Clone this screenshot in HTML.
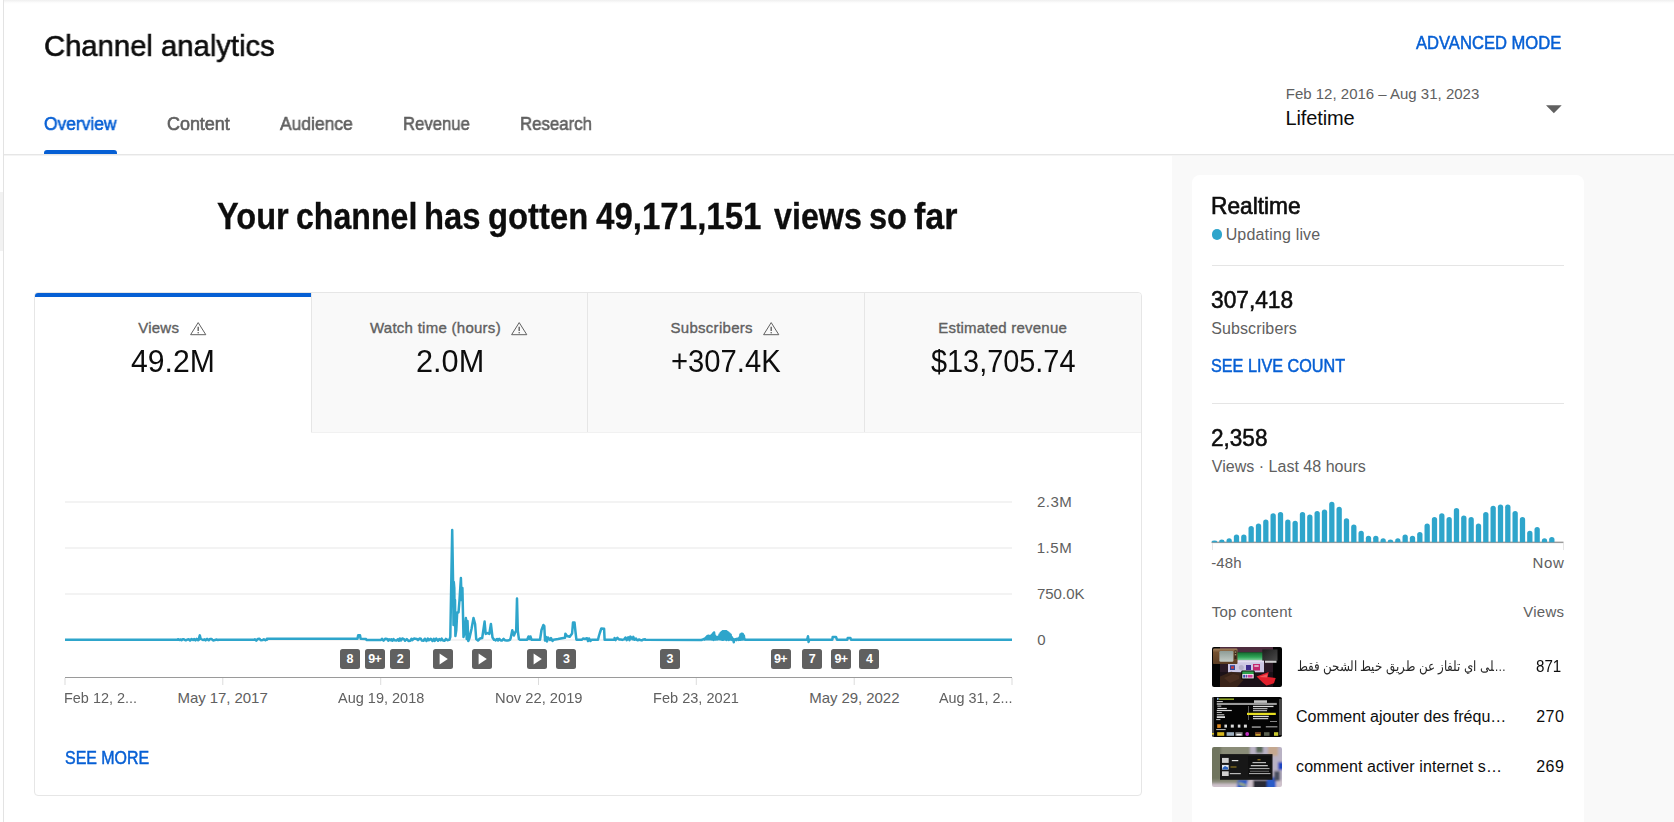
<!DOCTYPE html>
<html lang="en"><head><meta charset="utf-8"><title>Channel analytics</title>
<style>
html,body{margin:0;padding:0}
body{width:1674px;height:822px;overflow:hidden;background:#fff;font-family:"Liberation Sans",sans-serif;position:relative}
#app{position:absolute;left:0;top:0;width:1674px;height:822px;overflow:hidden;background:#fff}
.t{position:absolute;white-space:pre;line-height:1;margin:0;transform-origin:0 0}
.abs{position:absolute}
.mk{position:absolute;top:649px;width:20px;height:20px;border-radius:2.5px;background:#606060;color:#fff;font-weight:700;font-size:12.5px;line-height:20px;text-align:center;letter-spacing:-0.6px}
.thumb{position:absolute;left:1212px;width:70px;height:40px;border-radius:2px;overflow:hidden}
</style></head><body><div id="app">
<div class="abs" style="left:1172px;top:155px;width:502px;height:667px;background:#f9f9f9"></div>
<div class="abs" style="left:4px;top:0;width:1670px;height:4px;background:linear-gradient(#efefef,#fbfbfb 60%,#fff)"></div>
<div class="abs" style="left:0;top:192px;width:3px;height:59px;background:#f2f2f2"></div>
<div class="abs" style="left:3px;top:0;width:1px;height:822px;background:#e3e3e3"></div>
<div class="abs" style="left:4px;top:154px;width:1670px;height:1px;background:#e6e6e6"></div>
<div class="abs" style="left:4px;top:155px;width:1670px;height:1px;background:#f4f4f4"></div>
<div class="abs" style="left:44px;top:150px;width:73px;height:4px;background:#065fd4;border-radius:3px 3px 0 0"></div>
<svg class="abs" style="left:1540px;top:100px" width="30" height="20" viewBox="0 0 30 20"><path d="M6 5.2 L21.7 5.2 L13.85 13.3 Z" fill="#606060"/></svg>
<div class="abs" style="left:1192px;top:175px;width:392px;height:700px;background:#fff;border-radius:8px"></div>
<div class="abs" style="left:1212px;top:265px;width:352px;height:1px;background:#e5e5e5"></div>
<div class="abs" style="left:1212px;top:403px;width:352px;height:1px;background:#e5e5e5"></div>
<div class="abs" style="left:1211.6px;top:229.1px;width:10.5px;height:10.5px;border-radius:50%;background:#2ea5cb"></div>
<div class="abs" style="left:34px;top:292px;width:1106px;height:502px;border:1px solid #e6e6e6;border-radius:4px;background:#fff"></div>
<div class="abs" style="left:311px;top:293px;width:830px;height:139px;background:#f9f9f9;border-top-right-radius:3px"></div>
<div class="abs" style="left:311px;top:432px;width:830px;height:1px;background:#f1f1f1"></div>
<div class="abs" style="left:311px;top:293px;width:1px;height:139px;background:#e6e6e6"></div>
<div class="abs" style="left:587px;top:293px;width:1px;height:139px;background:#e6e6e6"></div>
<div class="abs" style="left:864px;top:293px;width:1px;height:139px;background:#e6e6e6"></div>
<div class="abs" style="left:35px;top:293px;width:276px;height:4px;background:#065fd4;border-top-left-radius:3px"></div>
<svg class="abs" style="left:187.5px;top:318px" width="22" height="20" viewBox="0 0 22 20"><path d="M10.2 4.6 L17.8 16.7 L2.6 16.7 Z" fill="none" stroke="#606060" stroke-width="1" stroke-linejoin="round"/><path d="M10.2 8.8 L10.2 13" stroke="#606060" stroke-width="1.4"/><circle cx="10.2" cy="14.7" r="0.8" fill="#606060"/></svg>
<svg class="abs" style="left:508.6px;top:318px" width="22" height="20" viewBox="0 0 22 20"><path d="M10.2 4.6 L17.8 16.7 L2.6 16.7 Z" fill="none" stroke="#606060" stroke-width="1" stroke-linejoin="round"/><path d="M10.2 8.8 L10.2 13" stroke="#606060" stroke-width="1.4"/><circle cx="10.2" cy="14.7" r="0.8" fill="#606060"/></svg>
<svg class="abs" style="left:760.5px;top:318px" width="22" height="20" viewBox="0 0 22 20"><path d="M10.2 4.6 L17.8 16.7 L2.6 16.7 Z" fill="none" stroke="#606060" stroke-width="1" stroke-linejoin="round"/><path d="M10.2 8.8 L10.2 13" stroke="#606060" stroke-width="1.4"/><circle cx="10.2" cy="14.7" r="0.8" fill="#606060"/></svg>
<svg class="abs" style="left:0;top:480px" width="1172" height="220" viewBox="0 480 1172 220"><rect x="65" y="501.5" width="947" height="1" fill="#e8e8e8"/><rect x="65" y="547.5" width="947" height="1" fill="#e8e8e8"/><rect x="65" y="593.5" width="947" height="1" fill="#e8e8e8"/><rect x="65" y="639.5" width="947" height="1" fill="#e8e8e8"/><rect x="65" y="677" width="947" height="1" fill="#9a9a9a"/><rect x="64.5" y="678" width="1" height="7" fill="#dcdcdc"/><rect x="222.3" y="678" width="1" height="7" fill="#dcdcdc"/><rect x="380.2" y="678" width="1" height="7" fill="#dcdcdc"/><rect x="538.0" y="678" width="1" height="7" fill="#dcdcdc"/><rect x="695.8" y="678" width="1" height="7" fill="#dcdcdc"/><rect x="853.7" y="678" width="1" height="7" fill="#dcdcdc"/><rect x="1011.5" y="678" width="1" height="7" fill="#dcdcdc"/><path d="M65.0 639.7 L178.0 639.7 L178.0 639.2 L179.6 640.0 L180.9 639.4 L181.8 640.2 L182.8 639.2 L183.9 639.3 L185.8 640.3 L187.7 639.4 L188.9 639.3 L190.1 640.5 L191.6 639.0 L193.1 640.0 L194.3 639.0 L195.5 640.3 L196.7 638.9 L197.9 640.3 L199.0 639.7 L199.3 637.0 L199.8 635.4 L200.6 638.5 L201.0 639.0 L202.9 640.0 L204.6 639.3 L205.6 640.4 L207.1 638.9 L208.7 640.3 L210.1 638.9 L211.5 639.0 L213.1 640.4 L214.9 640.1 L216.5 639.4 L217.6 640.0 L219.0 639.7 L255.0 639.7 L255.0 639.3 L256.3 640.6 L257.7 639.0 L259.5 638.8 L260.8 640.3 L262.7 640.1 L263.9 639.2 L265.4 640.2 L266.7 639.1 L267.0 639.7 L267.0 638.7 L357.5 638.7 L358.2 635.2 L360.0 635.2 L360.6 638.7 L366.0 639.0 L366.5 640.0 L381.0 640.0 L382.0 638.8 L383.6 640.6 L385.4 638.7 L387.1 639.0 L388.2 640.6 L389.1 639.2 L390.4 640.1 L391.5 639.3 L392.4 640.8 L393.5 639.1 L394.8 640.2 L396.7 640.5 L397.7 639.3 L398.9 640.8 L399.8 638.5 L400.9 640.5 L402.3 638.5 L404.0 639.1 L405.1 640.7 L406.8 639.1 L408.5 640.9 L410.3 640.7 L411.4 638.9 L412.4 640.1 L413.5 638.8 L414.9 638.6 L416.8 639.0 L418.0 640.2 L419.5 638.6 L420.9 638.8 L421.9 640.6 L423.7 640.7 L424.8 638.7 L426.5 640.9 L427.8 638.5 L428.9 640.2 L430.8 638.7 L432.5 640.9 L433.8 638.9 L434.7 640.9 L436.2 638.6 L438.0 640.8 L439.2 639.1 L440.7 640.3 L441.7 638.6 L443.1 640.6 L444.5 640.8 L445.9 638.9 L447.3 640.2 L449.0 639.7 L449.5 639.7 L450.3 637.0 L452.2 530.0 L453.2 590.0 L453.5 625.0 L453.8 582.0 L454.3 588.0 L454.7 620.0 L455.0 600.0 L455.4 636.0 L456.3 630.0 L457.2 612.5 L458.5 612.5 L459.5 600.0 L460.9 578.0 L461.6 600.0 L462.4 588.0 L463.5 637.0 L464.8 632.0 L465.9 618.0 L466.7 639.0 L467.5 621.0 L468.3 641.0 L469.5 638.0 L471.5 629.0 L473.5 618.0 L475.1 624.0 L476.2 639.0 L478.0 640.5 L480.0 638.5 L482.2 638.0 L484.6 621.6 L485.7 634.0 L487.5 633.0 L489.3 634.0 L490.9 624.0 L492.5 637.5 L494.0 639.7 L494.0 639.3 L495.7 640.4 L497.1 639.0 L498.1 640.4 L499.3 638.9 L500.8 640.5 L502.2 640.4 L503.6 638.9 L505.1 640.3 L506.7 640.6 L507.9 640.4 L509.7 640.1 L510.0 639.7 L510.7 638.0 L512.3 630.3 L513.9 635.5 L515.4 632.0 L516.2 630.8 L517.0 598.6 L517.8 630.8 L518.9 639.0 L520.0 639.7 L527.2 639.7 L528.5 636.5 L529.5 639.0 L530.5 636.5 L531.5 639.7 L540.0 639.7 L540.6 636.0 L541.5 630.0 L543.4 625.0 L544.3 626.0 L545.0 640.5 L546.0 637.0 L547.0 641.5 L548.0 637.5 L550.0 640.0 L551.0 638.0 L552.5 641.0 L553.5 639.7 L558.0 639.0 L562.0 638.2 L565.0 637.8 L565.4 633.7 L567.0 636.0 L569.7 636.8 L571.0 635.0 L572.1 633.5 L573.0 622.5 L574.5 622.5 L575.5 632.0 L576.4 639.7 L582.0 639.7 L583.0 638.5 L585.0 639.0 L587.0 638.2 L588.0 641.0 L589.0 638.5 L590.5 641.0 L591.7 639.7 L598.0 639.7 L598.9 636.0 L599.8 633.0 L601.3 628.5 L604.1 628.7 L604.6 639.7 L614.6 639.7 L614.6 637.9 L615.6 640.1 L617.4 637.8 L619.0 639.4 L620.9 639.5 L622.3 639.9 L624.0 639.4 L625.5 637.5 L626.7 640.2 L628.2 637.4 L629.5 640.1 L630.4 636.6 L632.4 639.3 L633.3 636.9 L634.4 639.8 L636.0 638.6 L636.0 639.3 L637.9 640.3 L638.9 639.4 L640.2 640.0 L641.8 640.4 L643.6 639.4 L645.0 639.3 L645.0 639.7 L702.0 640.0 L702.5 639.4 L703.1 639.5 L703.6 639.2 L704.2 638.9 L704.7 639.6 L705.3 638.2 L705.8 639.3 L706.4 637.1 L706.9 639.2 L707.5 636.0 L708.0 639.3 L708.6 635.8 L709.1 639.2 L709.7 636.3 L710.2 639.3 L710.8 635.7 L711.3 639.4 L711.9 634.7 L712.4 639.4 L713.0 633.6 L713.5 639.9 L714.1 632.6 L714.6 639.4 L715.2 635.8 L715.7 639.6 L716.3 637.2 L716.8 639.3 L717.4 637.3 L717.9 639.4 L718.5 636.6 L719.0 639.1 L719.6 634.6 L720.1 639.4 L720.7 633.0 L721.2 639.1 L721.8 632.1 L722.3 639.8 L722.9 631.3 L723.4 639.7 L724.0 631.2 L724.5 639.3 L725.1 631.2 L725.6 639.6 L726.2 631.2 L726.7 640.0 L727.3 632.0 L727.8 639.2 L728.4 632.8 L728.9 639.9 L729.5 633.7 L730.0 639.5 L730.6 634.7 L731.1 639.6 L731.7 637.3 L732.2 639.9 L732.8 638.7 L733.3 639.5 L733.8 642.3 L733.9 639.5 L733.8 642.3 L734.4 639.6 L735.0 639.2 L735.5 639.8 L736.1 639.0 L736.6 640.1 L737.2 638.8 L737.7 639.4 L738.3 638.6 L738.8 639.9 L739.4 637.6 L739.9 639.8 L740.5 634.4 L741.0 639.7 L741.6 633.7 L742.1 639.5 L742.7 633.9 L743.2 639.4 L743.8 635.4 L744.3 639.2 L744.9 639.3 L745.0 639.7 L806.5 639.7 L807.3 639.0 L808.0 636.3 L808.6 642.0 L809.3 639.7 L832.3 639.7 L832.7 637.0 L836.0 637.0 L837.0 639.7 L847.3 639.7 L847.7 638.0 L850.4 638.0 L851.0 639.7 L1012.0 639.7" fill="none" stroke="#2ea5cb" stroke-width="2.5" stroke-linejoin="round" stroke-linecap="butt"/></svg>
<div class="mk" style="left:339.7px">8</div>
<div class="mk" style="left:364.8px">9+</div>
<div class="mk" style="left:390.0px">2</div>
<div class="mk" style="left:432.5px"><svg width="20" height="20" viewBox="0 0 20 20" style="display:block"><path d="M6.6 4.5 L14.8 10 L6.6 15.5 Z" fill="#fff"/></svg></div>
<div class="mk" style="left:471.8px"><svg width="20" height="20" viewBox="0 0 20 20" style="display:block"><path d="M6.6 4.5 L14.8 10 L6.6 15.5 Z" fill="#fff"/></svg></div>
<div class="mk" style="left:526.9px"><svg width="20" height="20" viewBox="0 0 20 20" style="display:block"><path d="M6.6 4.5 L14.8 10 L6.6 15.5 Z" fill="#fff"/></svg></div>
<div class="mk" style="left:556.2px">3</div>
<div class="mk" style="left:659.7px">3</div>
<div class="mk" style="left:770.5px">9+</div>
<div class="mk" style="left:802.0px">7</div>
<div class="mk" style="left:831.0px">9+</div>
<div class="mk" style="left:859.2px">4</div>
<svg class="abs" style="left:1200px;top:495px" width="380" height="60" viewBox="1200 495 380 60"><rect x="1211.5" y="541.6" width="352" height="1.5" fill="#9c9c9c"/><rect x="1212" y="543" width="1" height="7" fill="#e6e6e6"/><rect x="1563" y="543" width="1" height="7" fill="#e6e6e6"/><path d="M1211.85 542.3 V541.60 Q1211.85 540.50 1214.50 540.50 Q1217.15 540.50 1217.15 541.60 V542.3 Z" fill="#2ea5cb"/><path d="M1219.18 542.3 V541.60 Q1219.18 539.40 1221.83 539.40 Q1224.48 539.40 1224.48 541.60 V542.3 Z" fill="#2ea5cb"/><path d="M1226.52 542.3 V540.90 Q1226.52 538.30 1229.17 538.30 Q1231.82 538.30 1231.82 540.90 V542.3 Z" fill="#2ea5cb"/><path d="M1233.85 542.3 V537.00 Q1233.85 534.40 1236.50 534.40 Q1239.15 534.40 1239.15 537.00 V542.3 Z" fill="#2ea5cb"/><path d="M1241.18 542.3 V537.00 Q1241.18 534.40 1243.83 534.40 Q1246.48 534.40 1246.48 537.00 V542.3 Z" fill="#2ea5cb"/><path d="M1248.51 542.3 V528.50 Q1248.51 525.90 1251.16 525.90 Q1253.81 525.90 1253.81 528.50 V542.3 Z" fill="#2ea5cb"/><path d="M1255.85 542.3 V526.00 Q1255.85 523.40 1258.50 523.40 Q1261.15 523.40 1261.15 526.00 V542.3 Z" fill="#2ea5cb"/><path d="M1263.18 542.3 V522.10 Q1263.18 519.50 1265.83 519.50 Q1268.48 519.50 1268.48 522.10 V542.3 Z" fill="#2ea5cb"/><path d="M1270.51 542.3 V515.80 Q1270.51 513.20 1273.16 513.20 Q1275.81 513.20 1275.81 515.80 V542.3 Z" fill="#2ea5cb"/><path d="M1277.85 542.3 V514.60 Q1277.85 512.00 1280.50 512.00 Q1283.15 512.00 1283.15 514.60 V542.3 Z" fill="#2ea5cb"/><path d="M1285.18 542.3 V522.10 Q1285.18 519.50 1287.83 519.50 Q1290.48 519.50 1290.48 522.10 V542.3 Z" fill="#2ea5cb"/><path d="M1292.51 542.3 V523.40 Q1292.51 520.80 1295.16 520.80 Q1297.81 520.80 1297.81 523.40 V542.3 Z" fill="#2ea5cb"/><path d="M1299.85 542.3 V514.60 Q1299.85 512.00 1302.50 512.00 Q1305.15 512.00 1305.15 514.60 V542.3 Z" fill="#2ea5cb"/><path d="M1307.18 542.3 V517.10 Q1307.18 514.50 1309.83 514.50 Q1312.48 514.50 1312.48 517.10 V542.3 Z" fill="#2ea5cb"/><path d="M1314.51 542.3 V513.50 Q1314.51 510.90 1317.16 510.90 Q1319.81 510.90 1319.81 513.50 V542.3 Z" fill="#2ea5cb"/><path d="M1321.84 542.3 V512.20 Q1321.84 509.60 1324.49 509.60 Q1327.14 509.60 1327.14 512.20 V542.3 Z" fill="#2ea5cb"/><path d="M1329.18 542.3 V504.40 Q1329.18 501.80 1331.83 501.80 Q1334.48 501.80 1334.48 504.40 V542.3 Z" fill="#2ea5cb"/><path d="M1336.51 542.3 V509.40 Q1336.51 506.80 1339.16 506.80 Q1341.81 506.80 1341.81 509.40 V542.3 Z" fill="#2ea5cb"/><path d="M1343.84 542.3 V520.80 Q1343.84 518.20 1346.49 518.20 Q1349.14 518.20 1349.14 520.80 V542.3 Z" fill="#2ea5cb"/><path d="M1351.18 542.3 V527.10 Q1351.18 524.50 1353.83 524.50 Q1356.48 524.50 1356.48 527.10 V542.3 Z" fill="#2ea5cb"/><path d="M1358.51 542.3 V533.40 Q1358.51 530.80 1361.16 530.80 Q1363.81 530.80 1363.81 533.40 V542.3 Z" fill="#2ea5cb"/><path d="M1365.84 542.3 V538.30 Q1365.84 535.70 1368.49 535.70 Q1371.14 535.70 1371.14 538.30 V542.3 Z" fill="#2ea5cb"/><path d="M1373.18 542.3 V538.30 Q1373.18 535.70 1375.83 535.70 Q1378.48 535.70 1378.48 538.30 V542.3 Z" fill="#2ea5cb"/><path d="M1380.51 542.3 V540.90 Q1380.51 538.30 1383.16 538.30 Q1385.81 538.30 1385.81 540.90 V542.3 Z" fill="#2ea5cb"/><path d="M1387.84 542.3 V541.60 Q1387.84 539.40 1390.49 539.40 Q1393.14 539.40 1393.14 541.60 V542.3 Z" fill="#2ea5cb"/><path d="M1395.17 542.3 V540.90 Q1395.17 538.30 1397.83 538.30 Q1400.47 538.30 1400.47 540.90 V542.3 Z" fill="#2ea5cb"/><path d="M1402.51 542.3 V537.00 Q1402.51 534.40 1405.16 534.40 Q1407.81 534.40 1407.81 537.00 V542.3 Z" fill="#2ea5cb"/><path d="M1409.84 542.3 V538.30 Q1409.84 535.70 1412.49 535.70 Q1415.14 535.70 1415.14 538.30 V542.3 Z" fill="#2ea5cb"/><path d="M1417.17 542.3 V534.60 Q1417.17 532.00 1419.82 532.00 Q1422.47 532.00 1422.47 534.60 V542.3 Z" fill="#2ea5cb"/><path d="M1424.51 542.3 V526.00 Q1424.51 523.40 1427.16 523.40 Q1429.81 523.40 1429.81 526.00 V542.3 Z" fill="#2ea5cb"/><path d="M1431.84 542.3 V519.70 Q1431.84 517.10 1434.49 517.10 Q1437.14 517.10 1437.14 519.70 V542.3 Z" fill="#2ea5cb"/><path d="M1439.17 542.3 V515.80 Q1439.17 513.20 1441.82 513.20 Q1444.47 513.20 1444.47 515.80 V542.3 Z" fill="#2ea5cb"/><path d="M1446.51 542.3 V519.70 Q1446.51 517.10 1449.16 517.10 Q1451.81 517.10 1451.81 519.70 V542.3 Z" fill="#2ea5cb"/><path d="M1453.84 542.3 V510.70 Q1453.84 508.10 1456.49 508.10 Q1459.14 508.10 1459.14 510.70 V542.3 Z" fill="#2ea5cb"/><path d="M1461.17 542.3 V518.20 Q1461.17 515.60 1463.82 515.60 Q1466.47 515.60 1466.47 518.20 V542.3 Z" fill="#2ea5cb"/><path d="M1468.50 542.3 V519.70 Q1468.50 517.10 1471.15 517.10 Q1473.80 517.10 1473.80 519.70 V542.3 Z" fill="#2ea5cb"/><path d="M1475.84 542.3 V526.00 Q1475.84 523.40 1478.49 523.40 Q1481.14 523.40 1481.14 526.00 V542.3 Z" fill="#2ea5cb"/><path d="M1483.17 542.3 V514.60 Q1483.17 512.00 1485.82 512.00 Q1488.47 512.00 1488.47 514.60 V542.3 Z" fill="#2ea5cb"/><path d="M1490.50 542.3 V508.30 Q1490.50 505.70 1493.15 505.70 Q1495.80 505.70 1495.80 508.30 V542.3 Z" fill="#2ea5cb"/><path d="M1497.84 542.3 V507.20 Q1497.84 504.60 1500.49 504.60 Q1503.14 504.60 1503.14 507.20 V542.3 Z" fill="#2ea5cb"/><path d="M1505.17 542.3 V507.20 Q1505.17 504.60 1507.82 504.60 Q1510.47 504.60 1510.47 507.20 V542.3 Z" fill="#2ea5cb"/><path d="M1512.50 542.3 V513.50 Q1512.50 510.90 1515.15 510.90 Q1517.80 510.90 1517.80 513.50 V542.3 Z" fill="#2ea5cb"/><path d="M1519.84 542.3 V519.70 Q1519.84 517.10 1522.49 517.10 Q1525.14 517.10 1525.14 519.70 V542.3 Z" fill="#2ea5cb"/><path d="M1527.17 542.3 V533.40 Q1527.17 530.80 1529.82 530.80 Q1532.47 530.80 1532.47 533.40 V542.3 Z" fill="#2ea5cb"/><path d="M1534.50 542.3 V529.50 Q1534.50 526.90 1537.15 526.90 Q1539.80 526.90 1539.80 529.50 V542.3 Z" fill="#2ea5cb"/><path d="M1541.84 542.3 V540.90 Q1541.84 538.30 1544.49 538.30 Q1547.13 538.30 1547.13 540.90 V542.3 Z" fill="#2ea5cb"/><path d="M1549.17 542.3 V539.60 Q1549.17 537.00 1551.82 537.00 Q1554.47 537.00 1554.47 539.60 V542.3 Z" fill="#2ea5cb"/></svg>
<svg class="thumb" style="top:647px" viewBox="0 0 70 40" width="70" height="40"><defs>
<linearGradient id="g1a" x1="0" y1="0" x2="0" y2="1"><stop offset="0" stop-color="#8e9c96"/><stop offset="1" stop-color="#c3cbc5"/></linearGradient>
<linearGradient id="g1b" x1="0" y1="0" x2="0" y2="1"><stop offset="0" stop-color="#15692f"/><stop offset=".6" stop-color="#2fa557"/><stop offset="1" stop-color="#7fd09a"/></linearGradient>
<linearGradient id="g1c" x1="0" y1="0" x2="0" y2="1"><stop offset="0" stop-color="#a58460"/><stop offset=".25" stop-color="#73502f"/><stop offset="1" stop-color="#5a3c22"/></linearGradient>
<linearGradient id="g1d" x1="0" y1="0" x2="1" y2="1"><stop offset="0" stop-color="#1c1c1c"/><stop offset="1" stop-color="#4a4a4a"/></linearGradient></defs>
<rect width="70" height="40" fill="#040404"/>
<rect x="8" y="0" width="53" height="40" fill="#2a1a25"/><rect x="8" y="0" width="53" height="5.2" fill="#4d2c3e"/><rect x="8" y="25" width="53" height="15" fill="#1c1118"/>
<rect x="25" y="5.3" width="26" height="8" fill="url(#g1b)"/>
<rect x="16" y="13.3" width="36" height="12" fill="#cdc8e4"/><rect x="16" y="13.3" width="36" height="2" fill="#e2def0"/>
<rect x="18" y="18.2" width="5" height="4.8" fill="#2c4aa0"/><rect x="19" y="19.4" width="3" height="2.2" fill="#d23a3a"/>
<circle cx="29.3" cy="20.5" r="2.5" fill="#b2aec8"/>
<rect x="34" y="18" width="5" height="5" fill="#3b2a8c"/><rect x="41" y="17" width="7" height="6.5" fill="#c2276f"/><rect x="42.3" y="18.2" width="4.4" height="1.6" fill="#e8c8da"/>
<rect x="1" y="1.5" width="24.5" height="15.6" rx="1.2" fill="url(#g1c)"/><rect x="7.4" y="4" width="14" height="10.8" rx="1.2" fill="url(#g1a)"/><rect x="22.4" y="3.4" width="2.2" height="8.6" fill="#35261a"/><rect x="22.8" y="4.4" width="1.4" height="1.4" fill="#a09070"/><rect x="22.8" y="7" width="1.4" height="1.4" fill="#a09070"/>
<rect x="50.3" y="2.4" width="15.2" height="11.2" fill="url(#g1d)"/><rect x="53" y="13.7" width="11.5" height="2.1" fill="#cfcfcf"/>
<path d="M8 29.5 L19 24.8 L29 26 L31.5 33 L25 40 L8 40 Z" fill="#3a2419"/><path d="M12 31 L21 27 L27 28.5 L27 32 L18 36 Z" fill="#4a2e20"/>
<rect x="29.3" y="23.4" width="13.4" height="9" rx="1" fill="#0a0a0a"/><rect x="30.3" y="24.4" width="11.4" height="2.7" fill="#2fa04a"/><rect x="30.3" y="27" width="11.4" height="4.4" fill="#f4f4f4"/><rect x="36" y="27.8" width="4.6" height="2.8" fill="#d2409a"/><rect x="31.2" y="27.8" width="1.9" height="2.8" fill="#3050b0"/><rect x="33.6" y="27.8" width="1.8" height="2.8" fill="#7040a0"/>
<path d="M44.5 29.6 L56.7 24.9 L55.6 29.9 L63.7 31 L62 36.3 L54.4 38.6 L50.9 35.7 Z" fill="#e2202c"/><path d="M47 30 L55.5 27 L55 30.5 Z" fill="#f0585c"/></svg>
<svg class="thumb" style="top:697px" viewBox="0 0 70 40" width="70" height="40"><rect width="70" height="40" fill="#040404"/>
<rect x="0" y="0" width="2" height="40" fill="#4e4e4e"/><rect x="67" y="2" width="3" height="36" fill="#444"/>
<rect x="4.8" y="5.9" width="60" height="2.1" fill="#9a9a9a"/><rect x="42" y="3.3" width="13" height="2.6" fill="#c4c4c4"/>
<rect x="5" y="0.8" width="1.6" height="2" fill="#9ec0e8"/><rect x="7" y="1.4" width="15" height="1.6" fill="#8aa020"/>
<g fill="#dadada"><rect x="4.8" y="4.1" width="6" height="1"/><rect x="5.3" y="8.6" width="4" height="1"/><rect x="5.3" y="10.9" width="9.5" height="1.2"/><rect x="4.8" y="12.9" width="15" height="1.2"/><rect x="4.8" y="15.2" width="5" height="0.8"/><rect x="4.8" y="17.3" width="7.5" height="1"/><rect x="4.8" y="19.2" width="8.2" height="1.8"/><rect x="4.2" y="22.2" width="4.2" height="0.9"/>
<rect x="41" y="8.8" width="20.5" height="1.3"/><rect x="41" y="11.2" width="14.5" height="1"/><rect x="41" y="13.2" width="14" height="1"/><rect x="41" y="18.8" width="15.8" height="1.3"/><rect x="41" y="21.1" width="15.2" height="1.1"/><rect x="36" y="9" width="0.8" height="14" opacity=".5"/>
<rect x="12.4" y="27.6" width="2.6" height="3"/><rect x="18.8" y="27.6" width="3" height="3"/><rect x="25.8" y="27.6" width="2.6" height="3"/><rect x="31.9" y="27.6" width="3" height="3"/><rect x="39.8" y="29.4" width="9" height="1.3" opacity=".8"/><rect x="53.8" y="29.2" width="11.6" height="1.2" opacity=".7"/><rect x="4.2" y="32.2" width="9.5" height="0.9"/><rect x="58" y="24" width="7" height="1" opacity=".6"/></g>
<rect x="35" y="15.8" width="28.8" height="2.2" fill="#e6de22"/><rect x="5.2" y="27.3" width="3.6" height="3.6" fill="#e08a20"/>
<rect x="0" y="36" width="2" height="1.6" fill="#d8c020"/><rect x="5.2" y="35.2" width="7" height="3.6" fill="#d8b820"/><rect x="14.6" y="35.2" width="7.4" height="3.6" fill="#9fb0c0"/><rect x="23.4" y="35.2" width="7.2" height="3.6" fill="#8c8c8c"/><rect x="24.5" y="37" width="5" height="1.4" fill="#f0f0f0"/><circle cx="35.2" cy="37" r="1.9" fill="#c030c0"/><rect x="43.3" y="35.2" width="5.4" height="3.6" fill="#c8a030"/><rect x="43.3" y="35.2" width="5.4" height="1.6" fill="#6a3020"/><rect x="52" y="35.2" width="5.5" height="3.6" fill="#5a6050"/><rect x="62" y="35.2" width="4.2" height="3.6" fill="#c8c830"/></svg>
<svg class="thumb" style="top:747px" viewBox="0 0 70 40" width="70" height="40"><defs><filter id="tb2" x="-10%" y="-10%" width="120%" height="120%"><feGaussianBlur stdDeviation="0.9"/></filter></defs>
<g filter="url(#tb2)"><rect x="-6" y="-6" width="82" height="52" fill="#7c8068"/>
<rect x="-6" y="-6" width="15" height="52" fill="#6f745e"/><rect x="9" y="-6" width="30" height="14" fill="#8a8c78"/>
<rect x="38" y="-6" width="38" height="52" fill="#b9b2c4"/><rect x="56" y="-6" width="10" height="15" fill="#c4a890"/><rect x="44" y="-6" width="7" height="12" fill="#5a6a58"/>
<rect x="-6" y="33" width="82" height="13" fill="#cfc2cc"/><rect x="-6" y="33" width="32" height="3.5" fill="#8b8c7c"/>
<path d="M26 33 L36 33 L33 46 L24 46 Z" fill="#2458c8"/><path d="M27 35.5 L34 37.8 L33.4 39.4 L26.4 37 Z" fill="#c8d040"/>
<rect x="41" y="33" width="14" height="13" fill="#2a2c34"/><rect x="55" y="30" width="9" height="16" fill="#2a5cc8"/><rect x="66" y="15" width="10" height="8" fill="#1c44c0"/><rect x="62" y="24" width="6" height="10" fill="#4a5060"/></g>
<rect x="8" y="7.1" width="52.5" height="25.7" fill="#171717"/><rect x="36" y="9" width="23" height="20.5" fill="#101010"/>
<g fill="#e4e4e4"><rect x="10" y="10.9" width="6.7" height="5" opacity=".9"/><rect x="10" y="24.3" width="6.7" height="4.7" opacity=".9"/><rect x="19.8" y="13" width="6.5" height="1.2"/><rect x="17.8" y="26" width="11" height="1.2" opacity=".8"/>
<rect x="40.5" y="15" width="13.5" height="1.2" opacity=".8"/><rect x="38.8" y="18" width="17" height="1.3" opacity=".85"/><rect x="37.5" y="21" width="20" height="1.1" opacity=".7"/><rect x="38" y="23.8" width="19" height="0.9" opacity=".45"/><rect x="37" y="26" width="21.5" height="1.1" opacity=".7"/></g>
<rect x="10" y="17.9" width="6.7" height="4.7" fill="#dfe6ee"/><path d="M10.5 21 L13 19 L16 20.5 L16 22.4 L10.5 22.4 Z" fill="#2a62c0"/><rect x="18.5" y="19.5" width="6" height="1" fill="#a88a20"/><rect x="45.5" y="12.3" width="3" height="1" fill="#b8902a"/></svg>
<div class="t" dir="ltr" style="left:1296.8px;top:652px;width:249.5px;height:28px;line-height:29px;font-size:13.5px;color:#262626;overflow:hidden;text-overflow:ellipsis;white-space:nowrap;transform:scaleX(.85)"><span lang="ar">طريقة توصيل الهاتف على اي تلفاز عن طريق خيط الشحن فقط</span></div>
<span class="t" style="left:43.50px;top:31.00px;font-size:30px;color:#0d0d0d;-webkit-text-stroke:0.6px #0d0d0d;transform:scaleX(0.9744);will-change:transform;">Channel analytics</span>
<span class="t" style="left:43.80px;top:115.00px;font-size:18px;color:#065fd4;-webkit-text-stroke:0.6px #065fd4;transform:scaleX(0.966);will-change:transform;">Overview</span>
<span class="t" style="left:166.80px;top:115.00px;font-size:18px;color:#606060;letter-spacing:-0.058px;-webkit-text-stroke:0.6px #606060;will-change:transform;">Content</span>
<span class="t" style="left:280.35px;top:115.00px;font-size:18px;color:#606060;-webkit-text-stroke:0.6px #606060;transform:scaleX(0.9699);will-change:transform;">Audience</span>
<span class="t" style="left:403.30px;top:115.00px;font-size:18px;color:#606060;-webkit-text-stroke:0.6px #606060;transform:scaleX(0.9281);will-change:transform;">Revenue</span>
<span class="t" style="left:520.30px;top:115.00px;font-size:18px;color:#606060;-webkit-text-stroke:0.6px #606060;transform:scaleX(0.934);will-change:transform;">Research</span>
<span class="t" style="left:1416.35px;top:34.00px;font-size:18.5px;color:#065fd4;-webkit-text-stroke:0.5px #065fd4;transform:scaleX(0.8964);">ADVANCED MODE</span>
<span class="t" style="left:1285.75px;top:86.00px;font-size:15px;color:#606060;">Feb 12, 2016 – Aug 31, 2023</span>
<span class="t" style="left:1285.50px;top:108.00px;font-size:20px;color:#0d0d0d;letter-spacing:-0.114px;">Lifetime</span>
<span class="t" style="left:217.05px;top:199.00px;font-size:36.5px;color:#0d0d0d;font-weight:700;-webkit-text-stroke:0.3px #0d0d0d;transform:scaleX(0.8912);">Your </span>
<span class="t" style="left:296.10px;top:199.00px;font-size:36.5px;color:#0d0d0d;font-weight:700;-webkit-text-stroke:0.3px #0d0d0d;transform:scaleX(0.8801);">channel </span>
<span class="t" style="left:424.45px;top:199.00px;font-size:36.5px;color:#0d0d0d;font-weight:700;-webkit-text-stroke:0.3px #0d0d0d;transform:scaleX(0.8983);">has </span>
<span class="t" style="left:488.15px;top:199.00px;font-size:36.5px;color:#0d0d0d;font-weight:700;-webkit-text-stroke:0.3px #0d0d0d;transform:scaleX(0.8989);">gotten </span>
<span class="t" style="left:595.65px;top:199.00px;font-size:36.5px;color:#0d0d0d;font-weight:700;-webkit-text-stroke:0.3px #0d0d0d;transform:scaleX(0.9059);">49,171,151 </span>
<span class="t" style="left:774.00px;top:199.00px;font-size:36.5px;color:#0d0d0d;font-weight:700;-webkit-text-stroke:0.3px #0d0d0d;transform:scaleX(0.8832);">views </span>
<span class="t" style="left:869.10px;top:199.00px;font-size:36.5px;color:#0d0d0d;font-weight:700;-webkit-text-stroke:0.3px #0d0d0d;transform:scaleX(0.8926);">so </span>
<span class="t" style="left:914.40px;top:199.00px;font-size:36.5px;color:#0d0d0d;font-weight:700;-webkit-text-stroke:0.3px #0d0d0d;transform:scaleX(0.9312);">far</span>
<span class="t" style="left:138.15px;top:320.00px;font-size:15px;color:#606060;letter-spacing:0.275px;-webkit-text-stroke:0.35px #606060;">Views</span>
<span class="t" style="left:369.95px;top:320.00px;font-size:15px;color:#606060;letter-spacing:0.268px;-webkit-text-stroke:0.35px #606060;">Watch time (hours)</span>
<span class="t" style="left:670.50px;top:320.00px;font-size:15px;color:#606060;letter-spacing:0.285px;-webkit-text-stroke:0.35px #606060;">Subscribers</span>
<span class="t" style="left:938.20px;top:320.00px;font-size:15px;color:#606060;letter-spacing:0.222px;-webkit-text-stroke:0.35px #606060;">Estimated revenue</span>
<span class="t" style="left:131.35px;top:346.00px;font-size:31px;color:#0d0d0d;transform:scaleX(0.9728);">49.2M</span>
<span class="t" style="left:415.80px;top:346.00px;font-size:31px;color:#0d0d0d;transform:scaleX(0.9892);">2.0M</span>
<span class="t" style="left:670.80px;top:346.00px;font-size:31px;color:#0d0d0d;transform:scaleX(0.9428);">+307.4K</span>
<span class="t" style="left:931.25px;top:346.00px;font-size:31px;color:#0d0d0d;transform:scaleX(0.9312);">$13,705.74</span>
<span class="t" style="left:1036.95px;top:494.00px;font-size:15px;color:#606060;letter-spacing:0.483px;">2.3M</span>
<span class="t" style="left:1036.70px;top:540.00px;font-size:15px;color:#606060;letter-spacing:0.567px;">1.5M</span>
<span class="t" style="left:1036.95px;top:586.00px;font-size:15px;color:#606060;">750.0K</span>
<span class="t" style="left:1037.20px;top:632.00px;font-size:15px;color:#606060;">0</span>
<span class="t" style="left:64.15px;top:690.00px;font-size:15px;color:#606060;transform:scaleX(0.9631);">Feb 12, 2...</span>
<span class="t" style="left:177.55px;top:690.00px;font-size:15px;color:#606060;letter-spacing:-0.064px;">May 17, 2017</span>
<span class="t" style="left:337.70px;top:690.00px;font-size:15px;color:#606060;transform:scaleX(0.9672);">Aug 19, 2018</span>
<span class="t" style="left:494.55px;top:690.00px;font-size:15px;color:#606060;transform:scaleX(0.9811);">Nov 22, 2019</span>
<span class="t" style="left:652.95px;top:690.00px;font-size:15px;color:#606060;transform:scaleX(0.9711);">Feb 23, 2021</span>
<span class="t" style="left:809.25px;top:690.00px;font-size:15px;color:#606060;letter-spacing:-0.059px;">May 29, 2022</span>
<span class="t" style="left:939.30px;top:690.00px;font-size:15px;color:#606060;transform:scaleX(0.9596);">Aug 31, 2...</span>
<span class="t" style="left:65.10px;top:749.00px;font-size:18.5px;color:#065fd4;-webkit-text-stroke:0.5px #065fd4;transform:scaleX(0.862);">SEE MORE</span>
<span class="t" style="left:1211.00px;top:194.00px;font-size:24px;color:#0d0d0d;-webkit-text-stroke:0.65px #0d0d0d;transform:scaleX(0.9459);">Realtime</span>
<span class="t" style="left:1225.65px;top:227.00px;font-size:16px;color:#606060;letter-spacing:0.171px;">Updating live</span>
<span class="t" style="left:1211.30px;top:289.00px;font-size:23.5px;color:#0d0d0d;-webkit-text-stroke:0.55px #0d0d0d;transform:scaleX(0.9666);">307,418</span>
<span class="t" style="left:1211.15px;top:321.00px;font-size:16px;color:#606060;letter-spacing:0.125px;">Subscribers</span>
<span class="t" style="left:1211.40px;top:357.00px;font-size:18.5px;color:#065fd4;-webkit-text-stroke:0.5px #065fd4;transform:scaleX(0.8757);">SEE LIVE COUNT</span>
<span class="t" style="left:1211.05px;top:427.00px;font-size:23.5px;color:#0d0d0d;-webkit-text-stroke:0.55px #0d0d0d;transform:scaleX(0.9597);">2,358</span>
<span class="t" style="left:1211.80px;top:459.00px;font-size:16px;color:#606060;letter-spacing:0.020px;">Views · Last 48 hours</span>
<span class="t" style="left:1211.15px;top:555.00px;font-size:15px;color:#606060;letter-spacing:0.117px;">-48h</span>
<span class="t" style="left:1532.45px;top:555.00px;font-size:15px;color:#606060;letter-spacing:0.650px;">Now</span>
<span class="t" style="left:1211.65px;top:604.00px;font-size:15px;color:#606060;letter-spacing:0.280px;">Top content</span>
<span class="t" style="left:1523.20px;top:604.00px;font-size:15px;color:#606060;letter-spacing:0.275px;">Views</span>
<span class="t" style="left:1536.25px;top:659.00px;font-size:16px;color:#0d0d0d;transform:scaleX(0.9465);">871</span>
<span class="t" style="left:1296.05px;top:709.00px;font-size:16px;color:#0d0d0d;letter-spacing:0.018px;">Comment ajouter des fréqu…</span>
<span class="t" style="left:1536.35px;top:709.00px;font-size:16px;color:#0d0d0d;letter-spacing:0.375px;">270</span>
<span class="t" style="left:1296.05px;top:759.00px;font-size:16px;color:#0d0d0d;letter-spacing:0.087px;">comment activer internet s…</span>
<span class="t" style="left:1536.35px;top:759.00px;font-size:16px;color:#0d0d0d;letter-spacing:0.375px;">269</span>
</div></body></html>
